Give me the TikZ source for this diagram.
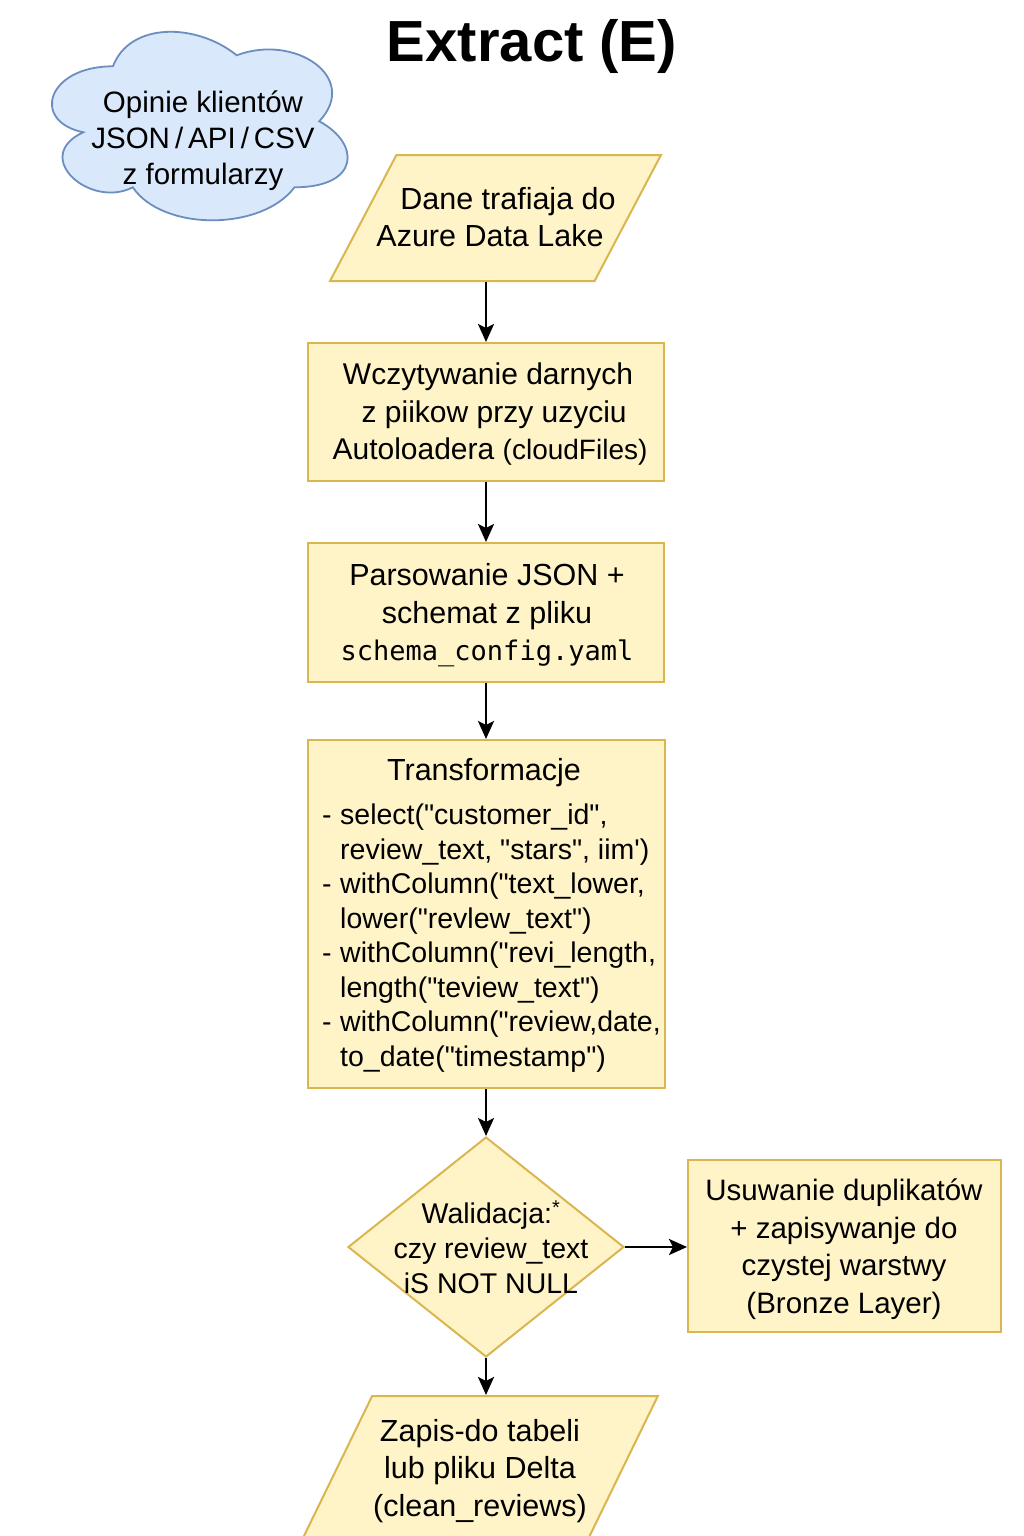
\documentclass[tikz,border=0pt]{standalone}
\usepackage{fontspec}
\setmainfont{Liberation Sans}[Ligatures=TeXOff]
\newfontfamily\codefont{DejaVu Sans Mono}
\usetikzlibrary{shapes.geometric,arrows.meta}
\definecolor{yfill}{HTML}{FFF4C8}
\definecolor{ydraw}{HTML}{D9B64E}
\definecolor{cfill}{HTML}{DAE8FC}
\definecolor{cdraw}{HTML}{6C8EBF}
\begin{document}
\begin{tikzpicture}[x=1pt,y=-1pt,
  box/.style={draw=ydraw, fill=yfill, line width=2pt, rectangle, inner sep=0pt},
  para/.style={draw=ydraw, fill=yfill, line width=2pt, trapezium, trapezium stretches=true, inner sep=2pt},
  dia/.style={draw=ydraw, fill=yfill, line width=2pt, diamond, inner sep=1pt},
  arr/.style={-{Stealth[length=18pt,width=16pt,inset=4pt]}, line width=2.7pt, black},
  txt/.style={font=\fontsize{30.5}{37.5}\selectfont, align=center, inner sep=0pt, text=black}]
\useasboundingbox[fill=white] (0,0) rectangle (1024,1536);

% title
\node[inner sep=0pt, font=\bfseries\fontsize{58}{60}\selectfont] (title) at (532,47) {Extract (E)};

% cloud
\begin{scope}[shift={(30.5,11.3)}, x=330pt, y=-220pt]
  \draw[draw=cdraw, fill=cfill, line width=1.8pt]
    (0.25,0.25) .. controls (0.05,0.25) and (0,0.5) .. (0.16,0.55)
    .. controls (0,0.66) and (0.18,0.9) .. (0.31,0.8)
    .. controls (0.4,1) and (0.7,1) .. (0.8,0.8)
    .. controls (1,0.8) and (1,0.6) .. (0.875,0.5)
    .. controls (1,0.3) and (0.8,0.1) .. (0.625,0.2)
    .. controls (0.5,0.05) and (0.3,0.05) .. (0.25,0.25) -- cycle;
\end{scope}
\node[txt, font=\fontsize{29.5}{36}\selectfont] (cloudtxt) at (203,141) {Opinie klientów\\JSON\hspace{5pt}/\hspace{5pt}API\hspace{5pt}/\hspace{5pt}CSV\\z formularzy};

% parallelogram 1
\node[para, trapezium left angle=72, trapezium right angle=108, minimum width=331pt, minimum height=126pt] (p1) at (495.5,218) {\phantom{x}};
\node[txt] (p1t) at (497,217) {\hspace*{22pt}Dane trafiaja do\\Azure Data Lake\hspace*{14pt}};

% box 2
\node[box, minimum width=356pt, minimum height=138pt] (b2) at (486,412) {};
\node[txt, font=\fontsize{30}{37.5}\selectfont] (b2t) at (490,414.5) {Wczytywanie darnych\hspace*{4pt}\\\ z piikow przy uzyciu\\Autoloadera {\fontsize{28}{37.5}\selectfont(cloudFiles)}};

% box 3
\node[box, minimum width=356pt, minimum height=139pt] (b3) at (486,612.5) {};
\node[txt] (b3t) at (487,615.5) {Parsowanie JSON +\\schemat z pliku\hspace*{18pt}\\{\codefont\fontsize{27}{37.5}\selectfont schema\_config.yaml}};

% box 4
\node[box, minimum width=357pt, minimum height=348pt] (b4) at (486,914) {};
\node[txt] (b4title) at (484,773) {Transformacje};
\node[inner sep=0pt, anchor=west, align=left, font=\fontsize{28.5}{34.5}\selectfont] (b4list) at (322,938) {%
\makebox[18pt][l]{-}select("customer\_id",\\
\hspace*{18pt}review\_text, "stars", iim')\\
\makebox[18pt][l]{-}withColumn("text\_lower,\\
\hspace*{18pt}lower("revlew\_text")\\
\makebox[18pt][l]{-}withColumn("revi\_length,\\
\hspace*{18pt}length("teview\_text")\\
\makebox[18pt][l]{-}withColumn("review,date,\\
\hspace*{18pt}to\_date("timestamp")};

% diamond
\node[dia, minimum width=276pt, minimum height=220pt] (d) at (486,1247) {\phantom{x}};
\node[txt, font=\fontsize{28.5}{35}\selectfont] (dt) at (491,1247) {Walidacja:\textsuperscript{*}\\czy review\_text\\iS NOT NULL};

% box 5
\node[box, minimum width=313pt, minimum height=172pt] (b5) at (844.5,1246) {};
\node[txt, font=\fontsize{29.5}{37.5}\selectfont] (b5t) at (844,1249) {Usuwanie duplikatów\\+ zapisywanje do\\czystej warstwy\\(Bronze Layer)};

% parallelogram bottom
\node[para, trapezium left angle=70, trapezium right angle=110, minimum width=364pt, minimum height=160pt] (p6) at (476,1476) {\phantom{x}};
\node[txt] (p6t) at (480,1471) {Zapis-do tabeli\\lub pliku Delta\\(clean\_reviews)};

% connectors
\draw[arr] (p1.south -| b2.north) -- (b2.north);
\draw[arr] (b2.south) -- (b3.north);
\draw[arr] (b3.south) -- (b4.north);
\draw[arr] (b4.south) -- (d.north);
\draw[arr] (d.east) -- (b5.west |- d.east);
\draw[arr] (d.south) -- (d.south |- p6.north);
\end{tikzpicture}
\end{document}
